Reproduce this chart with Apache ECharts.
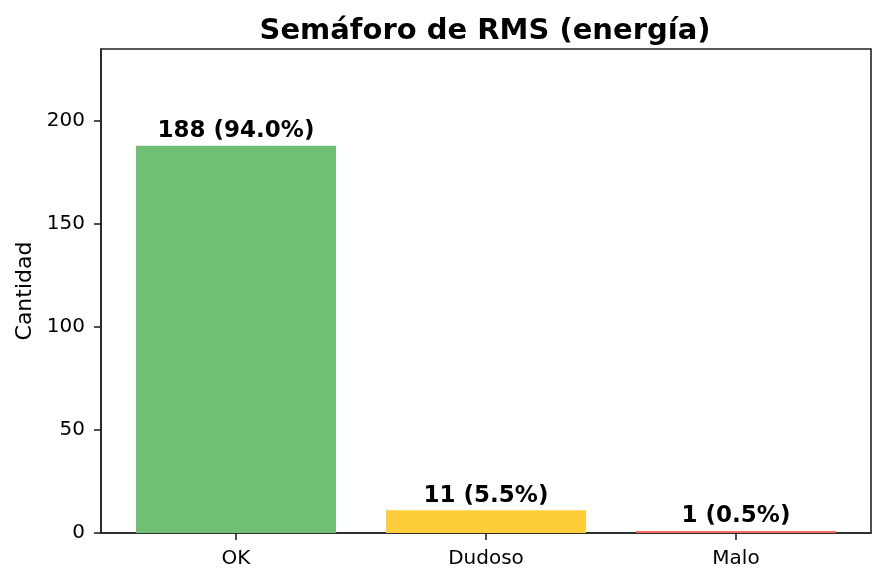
<!DOCTYPE html>
<html>
<head>
<meta charset="utf-8">
<script src="https://cdn.jsdelivr.net/npm/echarts@6/dist/echarts.min.js"></script>
<style>
  html, body { margin: 0; padding: 0; background: #fff; }
  #chart { width: 886px; height: 583px; }
</style>
</head>
<body>
<div id="chart"></div>
<script>
// semaforo data
const categories = ["OK", "Dudoso", "Malo"];
const counts = [188, 11, 1];
const barColors = ["#71bf74", "#ffcd39", "#f6695e"];
const yTicks = [0, 50, 100, 150, 200];

const total = counts.reduce((a, b) => a + b, 0);
const font = "DejaVu Sans";

const chart = echarts.init(document.getElementById("chart"));

chart.setOption({
  animation: false,
  backgroundColor: "#fff",
  title: {
    text: "Semáforo de RMS (energía)",
    left: 480,
    textAlign: "center",
    top: 12,
    textStyle: { fontFamily: font, fontWeight: "bold", fontSize: 29, color: "#000" }
  },
  grid: {
    left: 101, right: 15, top: 49, bottom: 50,
    show: true, borderColor: "#222", borderWidth: 1.6, backgroundColor: "transparent"
  },
  xAxis: {
    type: "value",
    min: -0.54,
    max: 2.54,
    splitLine: { show: false },
    axisLine: { onZero: false, lineStyle: { color: "#222", width: 1.6 } },
    axisTick: { show: true, length: 7, customValues: [0, 1, 2], lineStyle: { color: "#222", width: 1.6 } },
    axisLabel: {
      customValues: [0, 1, 2],
      margin: 16,
      fontFamily: font, fontSize: 20, color: "#000",
      formatter: (v) => categories[Math.round(v)]
    }
  },
  yAxis: {
    type: "value",
    min: 0,
    max: 235,
    name: "Cantidad",
    nameLocation: "middle",
    nameGap: 64,
    nameTextStyle: { fontFamily: font, fontSize: 22, color: "#000" },
    splitLine: { show: false },
    axisLine: { show: true, onZero: false, lineStyle: { color: "#222", width: 1.6 } },
    axisTick: { show: true, length: 7, customValues: yTicks, lineStyle: { color: "#222", width: 1.6 } },
    axisLabel: {
      customValues: yTicks,
      margin: 16,
      fontFamily: font, fontSize: 20, color: "#000"
    }
  },
  series: [{
    type: "bar",
    barWidth: 200,
    data: counts.map((c, i) => ({
      value: [i, c],
      itemStyle: { color: barColors[i] }
    })),
    label: {
      show: true,
      position: "top",
      distance: 3,
      fontFamily: font, fontWeight: "bold", fontSize: 23, color: "#000",
      formatter: (p) => p.value[1] + " (" + (p.value[1] / total * 100).toFixed(1) + "%)"
    }
  }]
});
</script>
</body>
</html>
